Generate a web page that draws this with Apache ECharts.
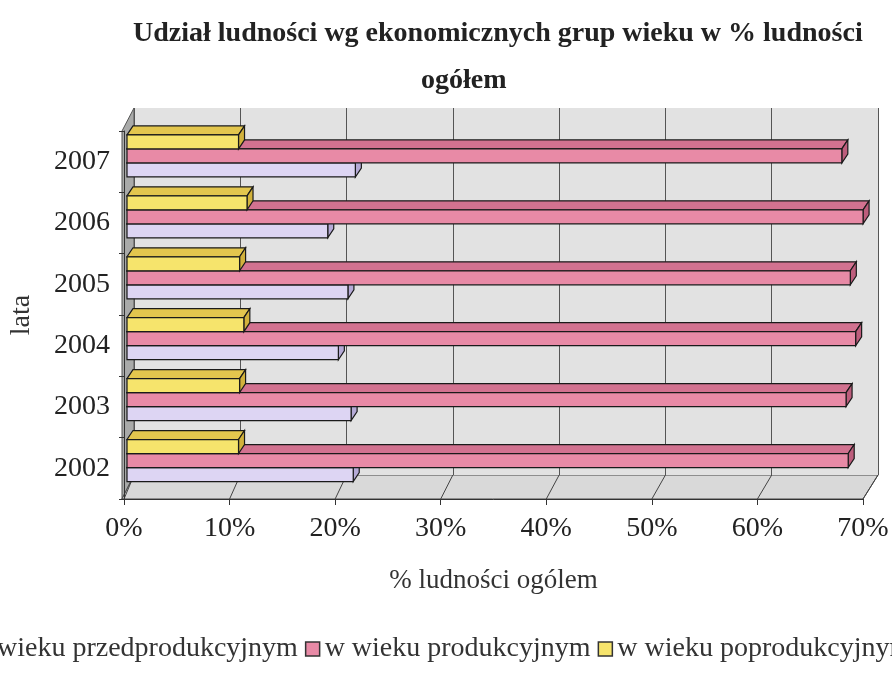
<!DOCTYPE html>
<html>
<head>
<meta charset="utf-8">
<script src="https://cdn.jsdelivr.net/npm/echarts@6/dist/echarts.min.js"></script>
<style>
html,body{margin:0;padding:0;background:#fff}
#chart{width:892px;height:675px}
</style>
</head>
<body>
<div id="chart"></div>
<script>
// dane (% ludności ogółem)
var years = ['2002', '2003', '2004', '2005', '2006', '2007'];
var przedprod = [21.3, 21.1, 19.9, 20.8, 18.9, 21.5];
var prod = [67.9, 67.7, 68.6, 68.1, 69.3, 67.3];
var poprod = [10.5, 10.6, 11.0, 10.6, 11.3, 10.5];
var seriesNames = ['w wieku przedprodukcyjnym', 'w wieku produkcyjnym', 'w wieku poprodukcyjnym'];
var xMax = 70;
var xStep = 10;

// uklad "3D": przednia krawedz, tylna sciana, plaszczyzna slupkow
var FRONT = {left: 122, top: 131, right: 863, bottom: 499};
var BACK = {left: 134, top: 108, right: 878, bottom: 475};
var BARS = {left: 127, top: 125.5, right: 870.5, bottom: 491};

var serif = '"Liberation Serif", "DejaVu Serif", serif';
var txt = '#222';

function gridOf(r) {
    return {left: r.left, top: r.top, width: r.right - r.left, height: r.bottom - r.top, containLabel: false};
}

// slupek z gorna i boczna scianka
function bar3d(idx, front, top, side) {
    return function (params, api) {
        var cat = api.value(1);
        var p0 = api.coord([0, cat]);
        var p1 = api.coord([api.value(0), cat]);
        var band = api.size([0, 1])[1];
        var h = band * 0.23;
        var y0 = p0[1] + h * (0.5 - idx);
        var y1 = y0 + h;
        var x0 = p0[0], x1 = p1[0];
        var dx = 6, dy = -9;
        var st = {stroke: '#1a1a1a', lineWidth: 1.2};
        return {
            type: 'group',
            children: [
                {type: 'polygon', shape: {points: [[x0, y0], [x0 + dx, y0 + dy], [x1 + dx, y0 + dy], [x1, y0]]},
                    style: Object.assign({fill: top}, st)},
                {type: 'polygon', shape: {points: [[x1, y0], [x1 + dx, y0 + dy], [x1 + dx, y1 + dy], [x1, y1]]},
                    style: Object.assign({fill: side}, st)},
                {type: 'rect', shape: {x: x0, y: y0, width: x1 - x0, height: h},
                    style: Object.assign({fill: front}, st)}
            ]
        };
    };
}

function toData(arr) {
    return arr.map(function (v, i) { return [v, i]; });
}

var colors = [
    ['#ddd5f3', '#c9bfe6', '#b5aad6'],
    ['#e88aa6', '#d27290', '#bd5d7c'],
    ['#f6e46c', '#e3c64e', '#d2b23c']
];
var values = [przedprod, prod, poprod];

var myChart = echarts.init(document.getElementById('chart'));
var option = {
    backgroundColor: '#fff',
    animation: false,
    title: [
        {text: 'Udział ludności wg ekonomicznych grup wieku w % ludności', left: 128, top: 15,
            textStyle: {fontFamily: serif, fontWeight: 'bold', fontSize: 28, color: txt}},
        {text: 'ogółem', left: 416, top: 62,
            textStyle: {fontFamily: serif, fontWeight: 'bold', fontSize: 28, color: txt}}
    ],
    legend: {
        data: seriesNames,
        left: -55,
        top: 630,
        width: 1400,
        itemWidth: 14,
        itemHeight: 14,
        itemGap: 7,
        icon: 'rect',
        itemStyle: {borderColor: '#333', borderWidth: 1.5},
        textStyle: {fontFamily: serif, fontSize: 28, color: '#333'}
    },
    grid: [gridOf(BACK), gridOf(FRONT), gridOf(BARS)],
    xAxis: [
        {gridIndex: 0, type: 'value', min: 0, max: xMax, interval: xStep,
            axisLine: {show: false}, axisTick: {show: false}, axisLabel: {show: false},
            splitLine: {show: true, lineStyle: {color: '#555', width: 1}}},
        {gridIndex: 1, type: 'value', min: 0, max: xMax, interval: xStep,
            axisLine: {show: true, lineStyle: {color: '#333', width: 1}},
            axisTick: {show: true, length: 6, lineStyle: {color: '#333'}},
            splitLine: {show: false},
            axisLabel: {formatter: '{value}%', fontFamily: serif, fontSize: 28, color: txt, margin: 16},
            name: '% ludności ogólem', nameLocation: 'middle', nameGap: 68,
            nameTextStyle: {fontFamily: serif, fontSize: 27, color: '#333'}},
        {gridIndex: 2, type: 'value', min: 0, max: xMax, show: false}
    ],
    yAxis: [
        {gridIndex: 0, type: 'category', data: years, show: false},
        {gridIndex: 1, type: 'category', data: years,
            axisLine: {show: true, lineStyle: {color: '#333', width: 1}},
            axisTick: {show: true, length: 5, lineStyle: {color: '#333'}},
            axisLabel: {fontFamily: serif, fontSize: 28, color: txt, margin: 14},
            name: 'lata', nameLocation: 'middle', nameRotate: 90, nameGap: 88,
            nameTextStyle: {fontFamily: serif, fontSize: 28, color: '#333'}},
        {gridIndex: 2, type: 'category', data: years, show: false}
    ],
    series: values.map(function (arr, i) {
        return {
            name: seriesNames[i],
            type: 'custom',
            xAxisIndex: 2,
            yAxisIndex: 2,
            encode: {x: 0, y: 1},
            itemStyle: {color: colors[i][0]},
            renderItem: bar3d(i, colors[i][0], colors[i][1], colors[i][2]),
            data: toData(arr)
        };
    })
};
option.grid[0].show = true;
option.grid[0].backgroundColor = '#e2e2e2';
option.grid[0].borderWidth = 0;
myChart.setOption(option);

// sciana lewa, podloga i linie podlogi
var deco = [
    {type: 'polygon', z: -1, silent: true,
        shape: {points: [[FRONT.left, FRONT.top], [BACK.left, BACK.top], [BACK.left, BACK.bottom], [FRONT.left, FRONT.bottom]]},
        style: {fill: '#a9aaa9', stroke: '#555', lineWidth: 1}},
    {type: 'polygon', z: -1, silent: true,
        shape: {points: [[FRONT.left, FRONT.bottom], [BACK.left, BACK.bottom], [BACK.right, BACK.bottom], [FRONT.right, FRONT.bottom]]},
        style: {fill: '#d9d9d9', stroke: '#444', lineWidth: 1}},
    {type: 'line', z: -1, silent: true,
        shape: {x1: BACK.right, y1: BACK.top, x2: BACK.right, y2: BACK.bottom},
        style: {stroke: '#444', lineWidth: 1.2}}
];
for (var v = 0; v <= xMax; v += xStep) {
    var fx = myChart.convertToPixel({xAxisIndex: 1}, v);
    var bx = myChart.convertToPixel({xAxisIndex: 0}, v);
    deco.push({type: 'line', z: -1, silent: true,
        shape: {x1: fx, y1: FRONT.bottom, x2: bx, y2: BACK.bottom},
        style: {stroke: '#444', lineWidth: 1}});
}
myChart.setOption({graphic: deco});
</script>
</body>
</html>
